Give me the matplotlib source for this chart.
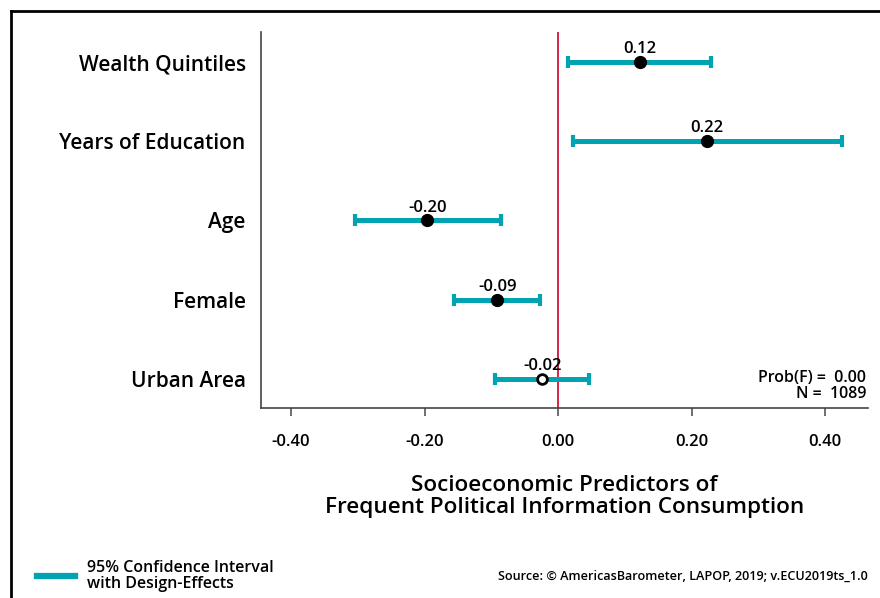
import numpy as np
import matplotlib
matplotlib.use("Agg")
import matplotlib.pyplot as plt
from matplotlib.lines import Line2D

plt.rcParams['font.family'] = ['Open Sans', 'DejaVu Sans']

# data
predictors = ['Wealth Quintiles', 'Years of Education', 'Age', 'Female', 'Urban Area']
coefs = [0.123, 0.223, -0.196, -0.091, -0.024]
ci_low = [0.015, 0.022, -0.304, -0.156, -0.094]
ci_high = [0.229, 0.425, -0.085, -0.027, 0.046]
significant = [True, True, True, True, False]
coef_labels = ['0.12', '0.22', '-0.20', '-0.09', '-0.02']
xticks = [-0.40, -0.20, 0.00, 0.20, 0.40]

teal = '#00A3B1'
red = '#D2143A'

fig = plt.figure(figsize=(8.8, 5.98), dpi=100)
ax = fig.add_axes([261/880, 1-408/598, (868-261)/880, (408-32)/598])

ypos = np.arange(len(predictors))
coefs = np.array(coefs)
err = [coefs - np.array(ci_low), np.array(ci_high) - coefs]

ax.axvline(0, color=red, lw=1.3, zorder=1)
ax.errorbar(coefs, ypos, xerr=err, fmt='none', ecolor=teal, elinewidth=3.6,
            capsize=4.5, capthick=3, zorder=2)
for i in range(len(predictors)):
    if significant[i]:
        ax.plot(coefs[i], ypos[i], 'o', color='black', ms=8.5, zorder=3)
    else:
        ax.plot(coefs[i], ypos[i], 'o', mfc='white', mec='black', mew=2, ms=7, zorder=3)
    ax.annotate(coef_labels[i], (coefs[i], ypos[i]), xytext=(0, 3.5), textcoords='offset points',
                ha='center', va='bottom', fontsize=12, weight='semibold')

ax.set_xlim(-0.445, 0.464)
ax.set_ylim(4.37, -0.38)
ax.set_yticks(ypos)
ax.set_yticklabels(predictors, fontsize=15, weight='semibold')
ax.tick_params(axis='y', length=0, pad=11)
ax.set_xticks(xticks)
ax.set_xticklabels(['%.2f' % t for t in xticks], fontsize=12, weight='semibold')
ax.tick_params(axis='x', length=6, width=1.2, color='#555555', pad=13)
for s in ['top', 'right']:
    ax.spines[s].set_visible(False)
for s in ['left', 'bottom']:
    ax.spines[s].set_color('#444444')
    ax.spines[s].set_linewidth(1.2)

ax.set_xlabel('Socioeconomic Predictors of\nFrequent Political Information Consumption',
              fontsize=16.2, weight='semibold', labelpad=18, linespacing=1.05)

ax.text(0.997, 0.058, 'Prob(F) =  0.00\nN =  1089', transform=ax.transAxes,
        ha='right', va='center', fontsize=11.5, weight='semibold', linespacing=0.95)

# legend and source
fig.add_artist(Line2D([37/880, 75/880], [1-576/598, 1-576/598], color=teal, lw=4.5))
fig.text(87/880, 1-576/598, '95% Confidence Interval\nwith Design-Effects',
         ha='left', va='center', fontsize=11.5, weight='semibold', linespacing=1.0)
fig.text(868/880, 1-576/598, 'Source: \u00a9 AmericasBarometer, LAPOP, 2019; v.ECU2019ts_1.0',
         ha='right', va='center', fontsize=9.1, weight='semibold')

# frame around the figure (top and left)
fig.add_artist(Line2D([11/880, 1], [1-10.5/598, 1-10.5/598], color='black', lw=2))
fig.add_artist(Line2D([11/880, 11/880], [0, 1-10.5/598], color='black', lw=2))

fig.savefig('out.png', dpi=100)
